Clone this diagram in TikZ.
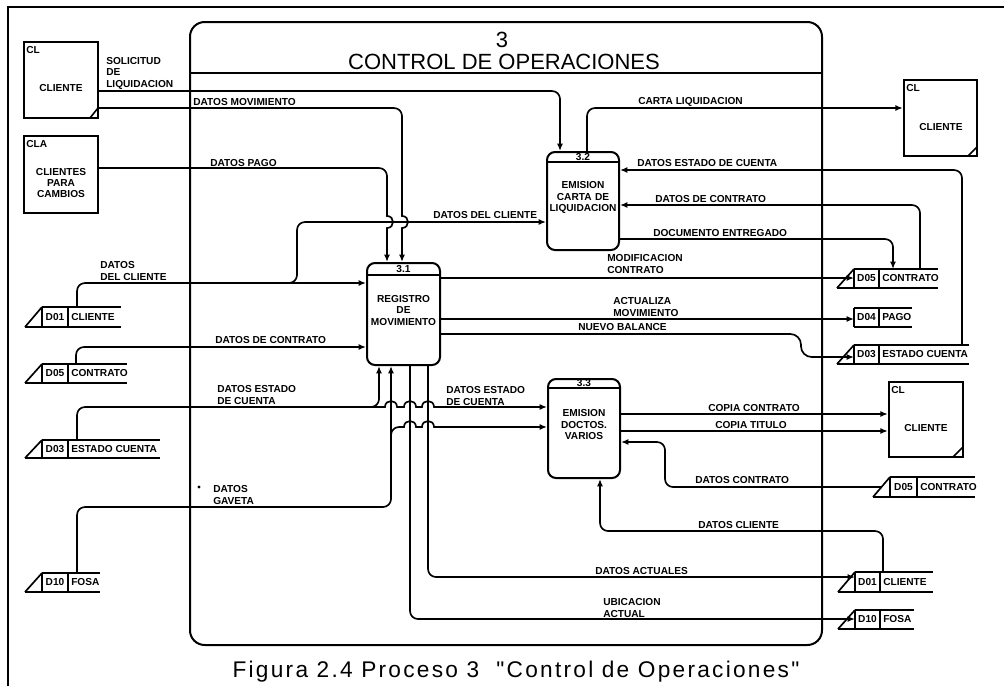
\documentclass[tikz,border=0pt]{standalone}
\usepackage{fontspec}
\setmainfont{Liberation Sans}
\newfontfamily\capfont{Liberation Sans}[LetterSpace=10]
\usetikzlibrary{arrows.meta,fit}

\tikzset{
  lab/.style={font=\fontsize{7.6}{8.6}\selectfont\bfseries, inner sep=0pt, align=left},
  flow/.style={line width=1.25pt, rounded corners=6pt, -{Latex[length=5.5pt,width=4.5pt]}},
  hflow/.style={line width=1.25pt, sharp corners, -{Latex[length=5.5pt,width=4.5pt]}},
  proc/.style={draw, line width=1.5pt, rounded corners=6pt, inner sep=0pt},
  ent/.style={draw, line width=1.8pt, inner sep=0pt},
  st/.style={line width=1.25pt},
  thin/.style={line width=1.2pt},
}

\newcommand\dstore[9]{%
  \node[inner sep=0pt, outer sep=0pt, fit={(#2,#5) (#4,#6)}] (#1) {};
  \draw[st] (#2,#5) -- (#4,#5);
  \draw[st] (#2,#5) -- (#2,#6);
  \draw[st] (#3,#5) -- (#3,#6);
  \ifnum#9=1
    \draw[st] ({#2-17},#6) -- (#4,#6);
    \draw[st] ({#2-17},#6) -- (#2,#5);
  \else
    \draw[st] (#2,#6) -- (#4,#6);
  \fi
  \node[lab] (#1-id) at ({(#2+#3)/2},{(#5+#6)/2}) {#7};
  \node[lab, anchor=west] (#1-lab) at ({#3+3},{(#5+#6)/2}) {#8};
}

\begin{document}
\begin{tikzpicture}[x=0.75pt,y=-0.75pt]
\useasboundingbox (0,0) rectangle (1004,686);
\fill[white] (0,0) rectangle (1004,686);

% outer frame
\draw[thin] (8,686) -- (8,7) -- (1004,7);

% main process boundary
\node[draw, line width=1.5pt, rounded corners=11pt, inner sep=0pt, fit={(190,22) (822,645)}] (p3) {};
\draw[thin] (p3.west |- 0,73) -- (p3.east |- 0,73);
\node[font=\fontsize{16.5}{18}\selectfont, inner sep=0pt] (t3) at (502,40) {3};
\node[font=\fontsize{16.5}{18}\selectfont, inner sep=0pt] (title) at (504,62) {CONTROL DE OPERACIONES};

% processes
\node[proc, fit={(367,263) (440,365)}, lab, align=center] (p31) {REGISTRO\\DE\\MOVIMIENTO};
\draw[thin] (p31.west |- 0,275) -- (p31.east |- 0,275);
\node[lab] (n31) at (403.5,269) {3.1};

\node[proc, fit={(547,152) (619,250)}, lab, align=center] (p32) {EMISION\\CARTA DE\\LIQUIDACION};
\draw[thin] (p32.west |- 0,162) -- (p32.east |- 0,162);
\node[lab] (n32) at (583,157) {3.2};

\node[proc, fit={(548,379) (620,478)}, lab, align=center] (p33) {EMISION\\DOCTOS.\\VARIOS};
\draw[thin] (p33.west |- 0,388) -- (p33.east |- 0,388);
\node[lab] (n33) at (584,383.5) {3.3};

% external entities
\node[ent, fit={(24,42) (98,118)}] (cl1) {};
\node[lab, anchor=north west] (cl1-c) at (26,46) {CL};
\node[lab] (cl1-t) at (61,88) {CLIENTE};
\draw[thin] (90,118) -- (98,108);

\node[ent, fit={(24,136) (98,213)}] (cla) {};
\node[lab, anchor=north west] (cla-c) at (26,140) {CLA};
\node[lab, align=center] (cla-t) at (61,183) {CLIENTES\\PARA\\CAMBIOS};

\node[ent, fit={(904,80) (977,156)}] (cl2) {};
\node[lab, anchor=north west] (cl2-c) at (906,84) {CL};
\node[lab] (cl2-t) at (941,127) {CLIENTE};
\draw[thin] (968,156) -- (977,147);

\node[ent, fit={(889,382) (963,457)}] (cl3) {};
\node[lab, anchor=north west] (cl3-c) at (891,386) {CL};
\node[lab] (cl3-t) at (926,428) {CLIENTE};
\draw[thin] (953,457) -- (963,447);

% data stores
\dstore{sA}{42}{68}{121}{307}{327}{D01}{CLIENTE}{1}
\dstore{sB}{42}{68}{127}{364}{383}{D05}{CONTRATO}{1}
\dstore{sC}{42}{68}{160}{440}{458}{D03}{ESTADO CUENTA}{1}
\dstore{sD}{42}{68}{100}{573}{592}{D10}{FOSA}{1}
\dstore{sE}{854}{879}{938}{269}{288}{D05}{CONTRATO}{1}
\dstore{sF}{854}{879}{912}{308}{327}{D04}{PAGO}{0}
\dstore{sG}{854}{879}{969}{345}{364}{D03}{ESTADO CUENTA}{1}
\dstore{sH}{890}{917}{975}{477}{497}{D05}{CONTRATO}{1}
\dstore{sI}{855}{880}{933}{572}{592}{D01}{CLIENTE}{1}
\dstore{sJ}{855}{880}{914}{610}{629}{D10}{FOSA}{1}

% junction coordinates
\coordinate (j1) at (250,283);
\coordinate (j2) at (360,407);
\coordinate (j3) at (391,445);

% flows
\draw[flow] (cl1.east |- 0,91) -| (p32.north -| 560,0);
\draw[hflow] (cl1.east |- 0,108) -- (394,108) .. controls (398.4,108) and (402,111.6) .. (402,116)
  -- (402,216) .. controls (410,216) and (410,228) .. (402,228) -- (p31.north -| 402,0);
\draw[hflow] (cla.east |- 0,168) -- (379,168) .. controls (383.4,168) and (387,171.6) .. (387,176)
  -- (387,216) .. controls (395,216) and (395,228) .. (387,228) -- (p31.north -| 387,0);
\draw[flow] (sA.north -| 77,0) |- (p31.west |- 0,283);
\draw[flow] (j1) -| (297,222) -- (p32.west |- 0,222);
\draw[flow] (sB.north -| 76,0) |- (p31.west |- 0,347);
\draw[flow] (sC.north -| 77,0) |- (379,407) -- (p31.south -| 379,0);
\draw[hflow] (j2) -- (385,407) .. controls (385,399) and (397,399) .. (397,407)
  -- (404,407) .. controls (404,399) and (416,399) .. (416,407)
  -- (422,407) .. controls (422,399) and (434,399) .. (434,407) -- (p33.west |- 0,407);
\draw[flow] (sD.north -| 77,0) |- (391,507) -- (p31.south -| 391,0);
\draw[hflow] (j3) -- (391,435) .. controls (391,430.6) and (394.6,427) .. (399,427)
  -- (404,427) .. controls (404,419) and (416,419) .. (416,427)
  -- (422,427) .. controls (422,419) and (434,419) .. (434,427) -- (p33.west |- 0,427);
\draw[flow] (p31.south -| 410,0) |- (sJ.west |- 0,619);
\draw[flow] (p31.south -| 428,0) |- (sI.west |- 0,577);
\draw[flow] (p32.north -| 587,0) |- (cl2.west |- 0,108);
\draw[flow] (sG.north -| 962,0) |- (p32.east |- 0,170);
\draw[flow] (sE.north -| 920,0) |- (p32.east |- 0,205);
\draw[flow] (p32.east |- 0,239) -| (sE.north -| 893,0);
\draw[flow] (p31.east |- 0,278) -- (sE.west |- 0,278);
\draw[flow] (p31.east |- 0,319) -- (sF.west |- 0,319);
\draw[flow, rounded corners=8pt] (p31.east |- 0,334) -- (801,334) -- (801,357) -- (sG.west |- 0,357);
\draw[flow] (p33.east |- 0,414) -- (cl3.west |- 0,414);
\draw[flow] (p33.east |- 0,431) -- (cl3.west |- 0,431);
\draw[flow] ([xshift=-6.75pt]sH.west) -| (665,442) -- (p33.east |- 0,442);
\draw[flow] (sI.north -| 883,0) |- (600,531) -- (p33.south -| 600,0);

% flow labels
\node[lab,anchor=west] (l1) at (106,73) {SOLICITUD\\DE\\LIQUIDACION};
\node[lab,anchor=west] (l2) at (193,102) {DATOS MOVIMIENTO};
\node[lab,anchor=west] (l3) at (210,163) {DATOS PAGO};
\node[lab,anchor=west] (l4) at (100,271) {DATOS\\DEL CLIENTE};
\node[lab,anchor=west] (l5) at (433,215) {DATOS DEL CLIENTE};
\node[lab,anchor=west] (l6) at (215,340) {DATOS DE CONTRATO};
\node[lab,anchor=west] (l7) at (217,395) {DATOS ESTADO\\DE CUENTA};
\node[lab,anchor=west] (l8) at (446,396) {DATOS ESTADO\\DE CUENTA};
\node[lab,anchor=west] (l9) at (213,495) {DATOS\\GAVETA};
\fill (199,487) circle[radius=1.2pt];
\node[lab,anchor=west] (l10) at (638,102) {CARTA LIQUIDACION};
\node[lab,anchor=west] (l11) at (637,163) {DATOS ESTADO DE CUENTA};
\node[lab,anchor=west] (l12) at (655,199) {DATOS DE CONTRATO};
\node[lab,anchor=west] (l13) at (653,233) {DOCUMENTO ENTREGADO};
\node[lab,anchor=west] (l14) at (607,264) {MODIFICACION\\CONTRATO};
\node[lab,anchor=west] (l15) at (613,307) {ACTUALIZA\\MOVIMIENTO};
\node[lab,anchor=west] (l16) at (578,327) {NUEVO BALANCE};
\node[lab,anchor=west] (l17) at (708,408) {COPIA CONTRATO};
\node[lab,anchor=west] (l18) at (715,425) {COPIA TITULO};
\node[lab,anchor=west] (l19) at (695,480) {DATOS CONTRATO};
\node[lab,anchor=west] (l20) at (698,525) {DATOS CLIENTE};
\node[lab,anchor=west] (l21) at (595,571) {DATOS ACTUALES};
\node[lab,anchor=west] (l22) at (603,608) {UBICACION\\ACTUAL};

% caption
\node[font=\capfont\fontsize{17}{20}\selectfont, inner sep=0pt] (cap) at (516,672) {Figura 2.4 Proceso 3\ \ "Control de Operaciones"};
\end{tikzpicture}
\end{document}
